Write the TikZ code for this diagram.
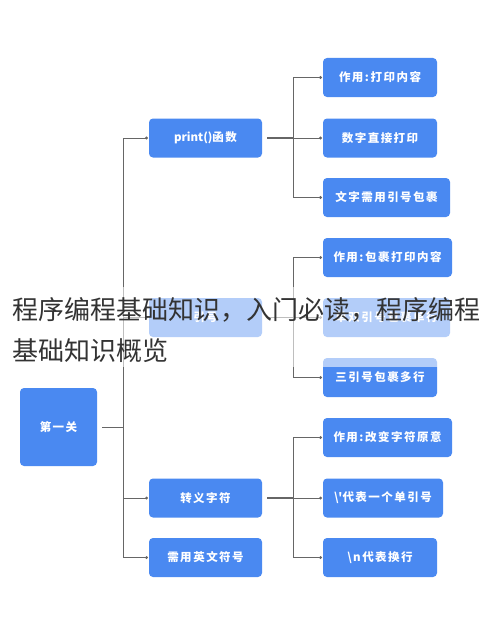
\documentclass[tikz,border=0pt]{standalone}
\usepackage{fontspec}
\usetikzlibrary{arrows.meta}
\newfontfamily\cjkfont{Noto Sans CJK SC}
\newfontfamily\boxfont[LetterSpace=13]{Noto Sans CJK SC}
\definecolor{boxblue}{HTML}{4A89F1}
\definecolor{linegray}{HTML}{666666}
\definecolor{titlegray}{HTML}{333333}
\tikzset{
  mmbox/.style={rectangle, rounded corners=4pt, fill=boxblue, draw=none,
    text=white, font=\boxfont\bfseries\fontsize{11.5}{13}\selectfont,
    minimum height=39pt, inner sep=0pt, anchor=center},
  link/.style={draw=linegray, line width=1pt},
  thick link/.style={draw=linegray, line width=1.4pt},
  arrowlink/.style={draw=linegray, line width=1pt, -{Circle[length=2.6pt]}, shorten >=1pt},
  titletext/.style={font=\cjkfont\fontsize{26}{30}\selectfont, text=titlegray, inner sep=0pt, anchor=base west}
}
\begin{document}
\begin{tikzpicture}[x=1pt,y=-1pt]
\useasboundingbox (0,0) rectangle (490,642);
\fill[white] (0,0) rectangle (490,642);

% root
\node[mmbox, minimum width=77pt, minimum height=78pt] (root) at (58.5,427) {第一关};

% parents
\node[mmbox, minimum width=113pt] (p1) at (205.5,138) {{\cjkfont\bfseries print()}函数};
\node[mmbox, minimum width=113pt] (p2) at (205.5,317.5) {引号};
\node[mmbox, minimum width=113pt] (p3) at (205.5,498) {转义字符};
\node[mmbox, minimum width=113pt] (p4) at (205.5,557.5) {需用英文符号};

% children
\node[mmbox, minimum width=114pt] (a1) at (380,77.5) {作用:打印内容};
\node[mmbox, minimum width=114pt] (a2) at (380,138) {数字直接打印};
\node[mmbox, minimum width=127pt] (a3) at (386.5,197.5) {文字需用引号包裹};
\node[mmbox, minimum width=129pt] (b1) at (387.5,257.5) {作用:包裹打印内容};
\node[mmbox, minimum width=127pt] (b2) at (386.5,317.5) {单双引号包裹单行};
\node[mmbox, minimum width=114pt] (b3) at (380,377.5) {三引号包裹多行};
\node[mmbox, minimum width=129pt] (c1) at (387.5,437.5) {作用:改变字符原意};
\node[mmbox, minimum width=120pt] (c2) at (383,498) {\textbackslash\textquotesingle 代表一个单引号};
\node[mmbox, minimum width=114pt] (c3) at (380,557.5) {\textbackslash n代表换行};

% junction coordinates
\coordinate (trunk) at (123,0);
\coordinate (jr) at (293,0);

% root to trunk
\draw[link, shorten <=5pt] (root.east) -- (root.east -| trunk);
\draw[link] (trunk |- p1) -- (trunk |- p4);
\foreach \p in {p1,p2,p3,p4}{
  \draw[arrowlink] (trunk |- \p) -- (\p.west);
}

% parent to children
\foreach \p/\f/\l in {p1/a1/a3, p2/b1/b3, p3/c1/c3}{
  \draw[thick link, shorten <=5pt] (\p.east) -- (\p.east -| jr);
  \draw[link] (jr |- \f) -- (jr |- \l);
}
\foreach \c in {a1,a2,a3,b1,b2,b3,c1,c2,c3}{
  \draw[arrowlink] (jr |- \c) -- (\c.west);
}

% translucent band behind title
\fill[white, opacity=0.58] (0,287) rectangle (490,367);

% title overlay
\node[titletext] (t1) at (12,319) {程序编程基础知识，入门必读，程序编程};
\node[titletext] (t2) at (12,360) {基础知识概览};
\end{tikzpicture}
\end{document}
